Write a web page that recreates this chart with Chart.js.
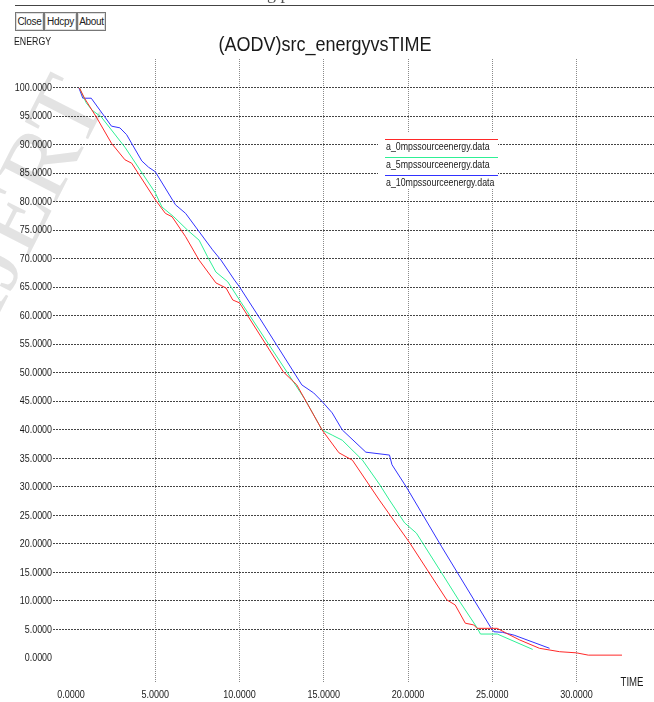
<!DOCTYPE html>
<html>
<head>
<meta charset="utf-8">
<script src="https://cdn.jsdelivr.net/npm/chart.js@4.4.1/dist/chart.umd.min.js"></script>
<style>
body{margin:0;background:#fff;overflow:hidden}
#wrap{position:relative;width:654px;height:702px}
#wrap canvas{position:absolute;left:0;top:0}
.btn{position:absolute;top:12px;height:17px;border:1px solid #777;box-shadow:inset 0 0 0 1px #ddd;font:10px "Liberation Sans",Arial,sans-serif;letter-spacing:-0.3px;color:#222;line-height:17px;text-align:center;background:#fff;overflow:hidden;white-space:nowrap}
#topline{position:absolute;left:15px;right:0;top:5px;border-top:1px solid #444}
#doc{position:absolute;left:222px;top:-17px;font:18px "Liberation Serif",serif;color:#555;white-space:nowrap}
</style>
</head>
<body>
<div id="wrap">
  <canvas id="energy" width="654" height="702"></canvas>
  <div id="doc">loading protocol</div>
  <div id="topline"></div>
  <div class="btn" style="left:15px;width:27px">Close</div>
  <div class="btn" style="left:44px;width:31px">Hdcpy</div>
  <div class="btn" style="left:77px;width:27px">About</div>
</div>
<script>
// values (TIME, ENERGY)
const seriesNames = ['a_0mpssourceenergy.data', 'a_5mpssourceenergy.data', 'a_10mpssourceenergy.data'];

const timeRed   = [0.5, 0.8, 1.5, 2.4, 3.2, 3.6, 5.0, 5.6, 6.0, 6.8, 7.6, 8.6, 9.2, 9.6, 10.0, 12.6, 13.4, 14.9, 15.9, 16.7, 18.3, 20.1, 22.3, 22.8, 23.4, 23.9, 24.1, 25.3, 25.8, 26.6, 27.8, 29.0, 30.0, 30.7, 32.7];
const energyRed = [100, 98.2, 94.9, 90.3, 87.4, 86.8, 80.4, 78.0, 77.4, 73.9, 69.8, 65.8, 64.9, 62.8, 62.3, 50.2, 47.9, 40.0, 36.0, 34.7, 27.7, 20.2, 10.2, 9.3, 6.1, 5.8, 5.2, 5.2, 4.4, 3.2, 1.7, 1.1, 0.9, 0.5, 0.5];

const timeGreen   = [0.5, 0.9, 1.25, 1.8, 3.2, 5.0, 5.4, 6.1, 6.9, 7.6, 8.1, 8.6, 9.3, 10.0, 13.9, 14.9, 15.5, 16.1, 17.3, 18.3, 18.9, 19.8, 20.5, 22.0, 23.0, 24.1, 24.3, 25.3, 27.4];
const energyGreen = [100, 97.4, 96.1, 94.9, 89.6, 81.6, 79.1, 77.4, 75.1, 73.3, 70.4, 67.7, 66.0, 62.8, 45.3, 40.0, 39.1, 38.2, 34.7, 30.5, 27.7, 23.7, 21.9, 14.9, 10.2, 5.3, 4.2, 4.2, 1.5];

const timeBlue   = [0.47, 0.7, 1.2, 2.4, 2.9, 3.3, 4.2, 4.6, 5.0, 6.2, 6.8, 7.4, 8.4, 8.9, 9.7, 10.0, 11.2, 13.7, 14.4, 14.9, 15.5, 16.1, 17.5, 18.9, 19.05, 19.9, 22.0, 24.9, 25.1, 25.6, 26.3, 28.4];
const energyBlue = [100, 98.2, 98.2, 93.3, 93.0, 91.8, 87.2, 86.1, 85.3, 79.5, 78.0, 75.6, 71.6, 69.8, 66.3, 65.1, 59.6, 47.9, 46.5, 45.0, 43.0, 40.0, 36.1, 35.6, 33.9, 30.0, 19.5, 5.4, 4.6, 4.5, 4.0, 1.7];

const xTicks = [0, 5, 10, 15, 20, 25, 30];
const yTicks = [0, 5, 10, 15, 20, 25, 30, 35, 40, 45, 50, 55, 60, 65, 70, 75, 80, 85, 90, 95, 100];

const sans = '"Liberation Sans", Arial, sans-serif';

function pts(xs, ys) {
  return xs.map(function (x, i) { return { x: x, y: ys[i] }; });
}

// xgraph uses a narrow helvetica, squeeze Liberation Sans to match
function narrowText(c, txt, x, y, size, align, sx) {
  c.save();
  c.font = size + 'px ' + sans;
  c.textAlign = align;
  c.textBaseline = 'middle';
  c.translate(x, y);
  c.scale(sx, 1);
  c.fillText(txt, 0, 0);
  c.restore();
}

const extras = {
  id: 'xgraphExtras',
  beforeDraw: function (chart) {
    const c = chart.ctx;
    // faint journal watermark behind the plot
    c.save();
    c.translate(-5, 322);
    c.rotate(-1.1);
    c.font = '98px "Liberation Serif", serif';
    c.fillStyle = '#e3e3e3';
    c.fillText('IJERT', 0, 0);
    c.restore();
  },
  afterDraw: function (chart) {
    const c = chart.ctx;
    const xs = chart.scales.x, ys = chart.scales.y;
    c.save();
    c.fillStyle = '#1a1a1a';

    xs.ticks.forEach(function (t) {
      narrowText(c, t.value.toFixed(4), xs.getPixelForValue(t.value), 695, 11, 'center', 0.82);
    });
    ys.ticks.forEach(function (t) {
      narrowText(c, t.value.toFixed(4), 52, ys.getPixelForValue(t.value), 11, 'right', 0.81);
    });

    narrowText(c, '(AODV)src_energyvsTIME', 325, 45, 20, 'center', 0.9);
    narrowText(c, 'ENERGY', 14, 42, 11, 'left', 0.8);
    narrowText(c, 'TIME', 632, 683, 12, 'center', 0.8);

    // legend box
    c.fillStyle = '#fff';
    c.fillRect(378, 133, 120, 56);
    chart.data.datasets.forEach(function (ds, i) {
      const y = 139 + i * 18;
      c.strokeStyle = ds.borderColor;
      c.lineWidth = 1;
      c.beginPath();
      c.moveTo(385, y + 0.5);
      c.lineTo(498, y + 0.5);
      c.stroke();
      c.fillStyle = '#1a1a1a';
      narrowText(c, ds.label, 386, y + 8, 11, 'left', 0.8);
    });
    c.restore();
  }
};

new Chart(document.getElementById('energy'), {
  type: 'line',
  data: {
    datasets: [{
      label: seriesNames[0],
      data: pts(timeRed, energyRed),
      borderColor: '#ff2828'
    }, {
      label: seriesNames[1],
      data: pts(timeGreen, energyGreen),
      borderColor: '#2ef095'
    }, {
      label: seriesNames[2],
      data: pts(timeBlue, energyBlue),
      borderColor: '#3232ff'
    }]
  },
  options: {
    responsive: false,
    animation: false,
    events: [],
    elements: {
      line: { borderWidth: 1, tension: 0, fill: false },
      point: { radius: 0 }
    },
    layout: { padding: { top: 59, left: 0, right: 0, bottom: 0 } },
    plugins: { legend: { display: false }, title: { display: false }, tooltip: { enabled: false } },
    scales: {
      x: {
        type: 'linear',
        min: -1.07,
        max: 34.6,
        afterBuildTicks: function (s) { s.ticks = xTicks.map(function (v) { return { value: v }; }); },
        afterFit: function (s) { s.height = 19; },
        ticks: { display: false },
        grid: {
          drawTicks: false,
          color: function (ctx) { return ctx.tick && ctx.tick.value === 0 ? 'rgba(0,0,0,0)' : '#8a8a8a'; },
          lineWidth: 1
        },
        border: { display: false, dash: [1, 1] }
      },
      y: {
        min: -4.39,
        max: 105.08,
        afterBuildTicks: function (s) { s.ticks = yTicks.map(function (v) { return { value: v }; }); },
        afterFit: function (s) { s.width = 53; },
        ticks: { display: false },
        grid: {
          drawTicks: false,
          color: function (ctx) { return ctx.tick && ctx.tick.value === 0 ? 'rgba(0,0,0,0)' : '#444'; },
          lineWidth: 1
        },
        border: { display: false, dash: [2, 1] }
      }
    }
  },
  plugins: [extras]
});
</script>
</body>
</html>
